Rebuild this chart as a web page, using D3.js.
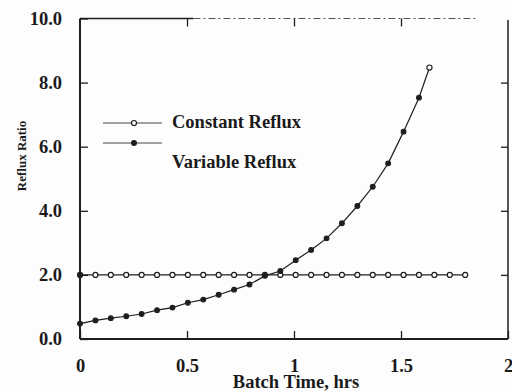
<!DOCTYPE html>
<html>
<head>
<meta charset="utf-8">
<script src="https://cdn.jsdelivr.net/npm/d3@7"></script>
<style>
  html, body { margin: 0; padding: 0; background: #fdfdfd; }
  svg { display: block; }
  text { font-family: "Liberation Serif", "DejaVu Serif", serif; fill: #1a1a1a; }
</style>
</head>
<body>
<svg id="chart" width="512" height="392"></svg>
<script>
// Batch time (hrs) and reflux ratio for the two operating policies
const constantTime = [0, 0.072, 0.144, 0.216, 0.288, 0.36, 0.432, 0.504, 0.576, 0.648,
  0.72, 0.792, 0.864, 0.936, 1.008, 1.08, 1.152, 1.224, 1.296, 1.368, 1.44, 1.512,
  1.584, 1.656, 1.728, 1.8];
const constantReflux = [2.0, 2.0, 2.0, 2.0, 2.0, 2.0, 2.0, 2.0, 2.0, 2.0, 2.0, 2.0,
  2.0, 2.0, 2.0, 2.0, 2.0, 2.0, 2.0, 2.0, 2.0, 2.0, 2.0, 2.0, 2.0, 2.0];

const variableTime = [0, 0.072, 0.144, 0.216, 0.288, 0.36, 0.432, 0.504, 0.576, 0.648,
  0.72, 0.792, 0.864, 0.936, 1.008, 1.08, 1.152, 1.224, 1.296, 1.368, 1.44, 1.512,
  1.584, 1.633];
const variableReflux = [0.48, 0.58, 0.65, 0.71, 0.78, 0.90, 0.98, 1.13, 1.23, 1.38,
  1.54, 1.70, 1.97, 2.12, 2.46, 2.78, 3.14, 3.61, 4.15, 4.75, 5.48, 6.47, 7.53, 8.47];

const xTicks = [0, 0.5, 1, 1.5, 2];
const yTicks = [0, 2, 4, 6, 8, 10];
const seriesNames = ["Constant Reflux", "Variable Reflux"];
const xTitle = "Batch Time, hrs";
const yTitle = "Reflux Ratio";

const ink = "#1e1e1e";
const svg = d3.select("#chart");

const x = d3.scaleLinear().domain([0, 2]).range([80, 508]);
const y = d3.scaleLinear().domain([0, 10]).range([339, 18.5]);

// Frame: left and bottom edges solid, right edge thinner, top edge broken
const frame = svg.append("g").attr("stroke", ink).attr("fill", "none");
frame.append("line").attr("x1", x(0)).attr("x2", x(0)).attr("y1", y(10)).attr("y2", y(0)).attr("stroke-width", 2);
frame.append("line").attr("x1", x(0)).attr("x2", x(2)).attr("y1", y(0)).attr("y2", y(0)).attr("stroke-width", 2);
frame.append("line").attr("x1", x(2)).attr("x2", x(2)).attr("y1", y(9.95)).attr("y2", y(0)).attr("stroke-width", 1.5);
frame.append("line").attr("x1", x(0)).attr("x2", x(0.53)).attr("y1", y(10)).attr("y2", y(10)).attr("stroke-width", 1.5);
frame.append("line").attr("x1", x(0.53)).attr("x2", x(1.85)).attr("y1", y(10)).attr("y2", y(10))
  .attr("stroke-width", 1.2).attr("stroke", "#555").attr("stroke-dasharray", "7,3,2,3");

// Axes with inward ticks
const fmtY = d3.format(".1f");
const fmtX = d3.format("~g");

const axisL = svg.append("g").attr("transform", `translate(${x(0)},0)`)
  .call(d3.axisLeft(y).tickValues(yTicks).tickFormat(fmtY).tickSize(-8).tickPadding(18));
const axisB = svg.append("g").attr("transform", `translate(0,${y(0)})`)
  .call(d3.axisBottom(x).tickValues(xTicks).tickFormat(fmtX).tickSize(-8).tickPadding(20));
const axisT = svg.append("g").attr("transform", `translate(0,${y(10)})`)
  .call(d3.axisTop(x).tickValues([0.5, 1, 1.5]).tickFormat("").tickSize(-8));
const axisR = svg.append("g").attr("transform", `translate(${x(2)},0)`)
  .call(d3.axisRight(y).tickValues([2, 4, 6, 8]).tickFormat("").tickSize(-7));

[axisL, axisB, axisT, axisR].forEach(g => {
  g.select(".domain").remove();
  g.selectAll(".tick line").attr("stroke", ink).attr("stroke-width", 1.3);
  g.selectAll(".tick text")
    .attr("fill", ink)
    .style("font-family", "'Liberation Serif', serif")
    .style("font-size", "18.5px")
    .style("font-weight", "bold");
});

// Axis titles
svg.append("text")
  .attr("x", 296).attr("y", 388)
  .attr("text-anchor", "middle")
  .style("font-size", "18.5px").style("font-weight", "bold")
  .text(xTitle);

svg.append("text")
  .attr("transform", "translate(26,156) rotate(-90)")
  .attr("text-anchor", "middle")
  .style("font-size", "13px").style("font-weight", "bold")
  .text(yTitle);

// Series lines
const lineGen = d3.line().x(d => x(d[0])).y(d => y(d[1]));
const constantPts = constantTime.map((t, i) => [t, constantReflux[i]]);
const variablePts = variableTime.map((t, i) => [t, variableReflux[i]]);

svg.append("path").datum(constantPts)
  .attr("d", lineGen).attr("fill", "none").attr("stroke", ink).attr("stroke-width", 1.2);
svg.append("path").datum(variablePts)
  .attr("d", lineGen).attr("fill", "none").attr("stroke", ink).attr("stroke-width", 1.2);

// Markers: open circles for constant reflux, filled dots for variable reflux
svg.append("g").selectAll("circle").data(constantPts).join("circle")
  .attr("cx", d => x(d[0])).attr("cy", d => y(d[1])).attr("r", 2.5)
  .attr("fill", (d, i) => i === 0 ? ink : "#fdfdfd").attr("stroke", ink).attr("stroke-width", 1.2);

svg.append("g").selectAll("circle").data(variablePts).join("circle")
  .attr("cx", d => x(d[0])).attr("cy", d => y(d[1]))
  .attr("r", (d, i) => i === variablePts.length - 1 ? 2.6 : 2.4)
  .attr("fill", (d, i) => i === variablePts.length - 1 ? "#fdfdfd" : ink)
  .attr("stroke", ink).attr("stroke-width", 1.1);

// Legend
const legend = svg.append("g");
const legendRows = [
  { name: seriesNames[0], lineY: 123, textY: 128, open: true },
  { name: seriesNames[1], lineY: 143, textY: 168, open: false }
];
legendRows.forEach(r => {
  legend.append("line").attr("x1", 103).attr("x2", 162).attr("y1", r.lineY).attr("y2", r.lineY)
    .attr("stroke", "#444").attr("stroke-width", 1);
  legend.append("circle").attr("cx", 134).attr("cy", r.lineY).attr("r", r.open ? 2.5 : 2.4)
    .attr("fill", r.open ? "#fdfdfd" : ink).attr("stroke", ink).attr("stroke-width", 1.2);
  legend.append("text").attr("x", 172).attr("y", r.textY)
    .style("font-size", "18.5px").style("font-weight", "bold")
    .text(r.name);
});
</script>
</body>
</html>
